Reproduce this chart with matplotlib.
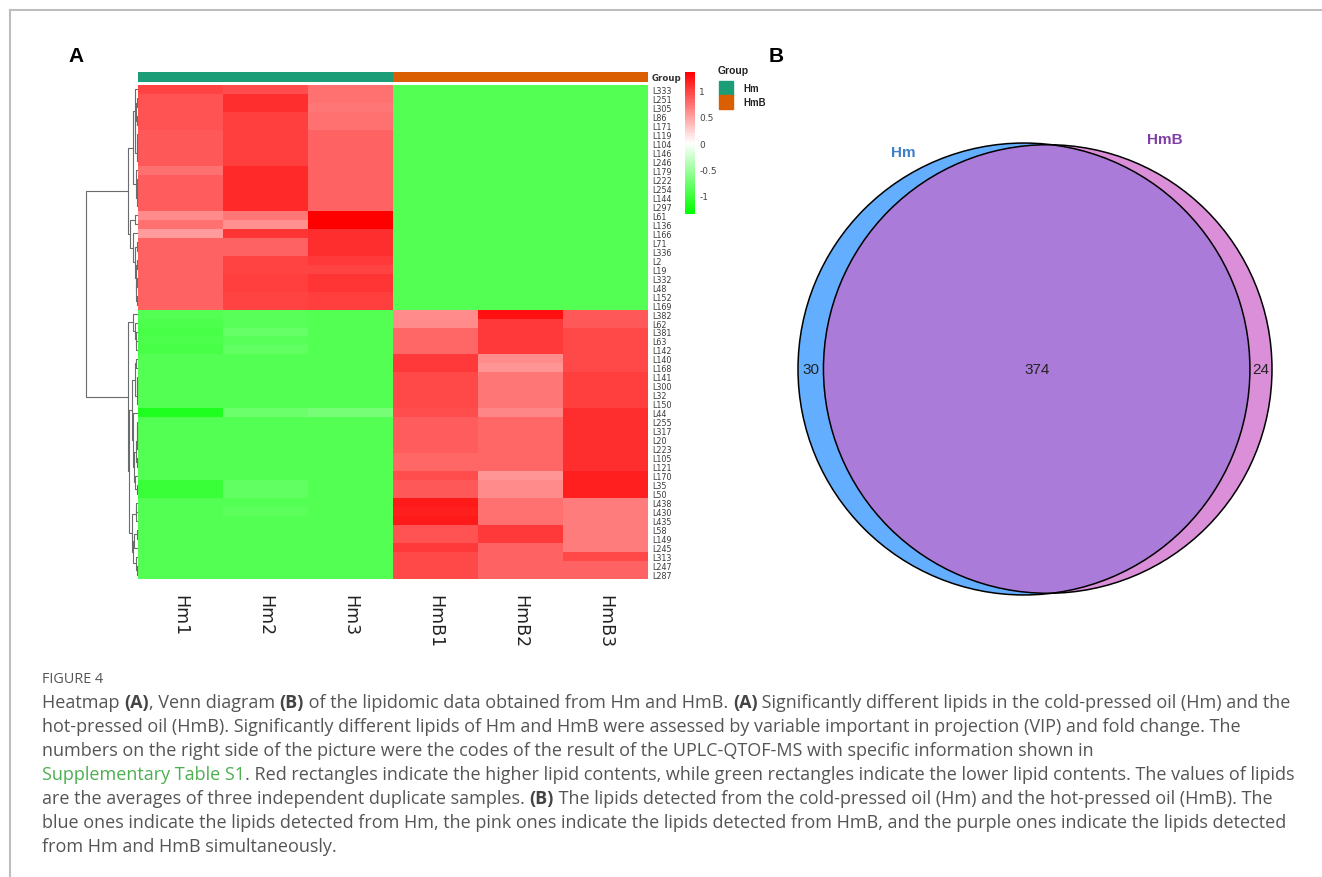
import numpy as np
import matplotlib
matplotlib.use('Agg')
import matplotlib.pyplot as plt
from matplotlib.colors import LinearSegmentedColormap, ListedColormap, Normalize
from matplotlib.cm import ScalarMappable
from matplotlib.patches import Circle, Rectangle
from matplotlib.lines import Line2D
from matplotlib.font_manager import FontProperties

W, H = 1322, 878

# ---- heatmap data (row z-scores) ----
lipids = ['L333', 'L251', 'L305', 'L86', 'L171', 'L119', 'L104', 'L146', 'L246', 'L179',
          'L222', 'L254', 'L144', 'L297', 'L61', 'L136', 'L166', 'L71', 'L336', 'L2',
          'L19', 'L332', 'L48', 'L152', 'L169',
          'L382', 'L62', 'L381', 'L63', 'L142', 'L140', 'L168', 'L141', 'L300', 'L32',
          'L150', 'L44', 'L255', 'L317', 'L20', 'L223', 'L105', 'L121', 'L170', 'L35',
          'L50', 'L438', 'L430', 'L435', 'L58', 'L149', 'L245', 'L313', 'L247', 'L287']
samples = ['Hm1', 'Hm2', 'Hm3', 'HmB1', 'HmB2', 'HmB3']
groups = ['Hm', 'Hm', 'Hm', 'HmB', 'HmB', 'HmB']
group_names = ['Hm', 'HmB']
group_colors = ['#1B9E77', '#D95F02']

hm1 = [0.98, 0.91, 0.91, 0.91, 0.91, 0.88, 0.88, 0.88, 0.88, 0.74,
       0.85, 0.85, 0.85, 0.85, 0.62, 0.76, 0.54, 0.84, 0.84, 0.84,
       0.84, 0.84, 0.84, 0.84, 0.84,
       -0.91, -0.95, -0.97, -0.93, -0.96, -0.91, -0.91, -0.91, -0.91, -0.91,
       -0.91, -1.18, -0.91, -0.91, -0.91, -0.91, -0.91, -0.91, -0.91, -1.05,
       -1.05, -0.91, -0.91, -0.91, -0.91, -0.91, -0.91, -0.91, -0.91, -0.91]
hm2 = [0.93, 1.10, 1.10, 1.02, 1.02, 1.02, 1.02, 1.02, 1.02, 1.12,
       1.12, 1.12, 1.12, 1.12, 0.71, 0.59, 1.08, 0.82, 0.82, 1.00,
       1.00, 1.02, 1.02, 0.98, 0.98,
       -0.89, -0.89, -0.80, -0.89, -0.84, -0.91, -0.91, -0.91, -0.91, -0.91,
       -0.91, -0.78, -0.91, -0.91, -0.91, -0.91, -0.91, -0.91, -0.91, -0.84,
       -0.84, -0.91, -0.87, -0.91, -0.91, -0.91, -0.91, -0.91, -0.91, -0.91]
hm3 = [0.74, 0.74, 0.72, 0.74, 0.74, 0.84, 0.84, 0.84, 0.84, 0.84,
       0.84, 0.84, 0.84, 0.84, 1.36, 1.36, 1.10, 1.10, 1.10, 1.04,
       1.00, 1.08, 1.08, 1.02, 1.02,
       -0.91, -0.91, -0.91, -0.91, -0.91, -0.91, -0.91, -0.91, -0.91, -0.91,
       -0.91, -0.73, -0.91, -0.91, -0.91, -0.91, -0.91, -0.91, -0.91, -0.91,
       -0.91, -0.91, -0.91, -0.91, -0.91, -0.91, -0.91, -0.91, -0.91, -0.91]
hmb1 = [-0.91, -0.91, -0.91, -0.91, -0.91, -0.91, -0.91, -0.91, -0.91, -0.91,
        -0.91, -0.91, -0.91, -0.91, -0.91, -0.91, -0.91, -0.91, -0.91, -0.91,
        -0.91, -0.91, -0.91, -0.91, -0.91,
        0.60, 0.62, 0.79, 0.79, 0.79, 1.06, 1.06, 0.97, 0.97, 0.97,
        0.97, 0.93, 0.86, 0.86, 0.86, 0.86, 0.80, 0.80, 0.93, 0.89,
        0.89, 1.22, 1.18, 1.22, 0.91, 0.91, 1.06, 0.96, 0.96, 0.96]
hmb2 = [-0.91, -0.91, -0.91, -0.91, -0.91, -0.91, -0.91, -0.91, -0.91, -0.91,
        -0.91, -0.91, -0.91, -0.91, -0.91, -0.91, -0.91, -0.91, -0.91, -0.91,
        -0.91, -0.91, -0.91, -0.91, -0.91,
        1.27, 1.05, 1.05, 1.05, 1.05, 0.62, 0.57, 0.71, 0.71, 0.71,
        0.71, 0.65, 0.80, 0.80, 0.80, 0.80, 0.80, 0.80, 0.57, 0.61,
        0.61, 0.74, 0.74, 0.74, 1.05, 1.05, 0.84, 0.84, 0.84, 0.84]
hmb3 = [-0.91, -0.91, -0.91, -0.91, -0.91, -0.91, -0.91, -0.91, -0.91, -0.91,
        -0.91, -0.91, -0.91, -0.91, -0.91, -0.91, -0.91, -0.91, -0.91, -0.91,
        -0.91, -0.91, -0.91, -0.91, -0.91,
        0.89, 0.89, 0.96, 0.96, 0.96, 0.96, 0.96, 1.02, 1.02, 1.02,
        1.02, 1.10, 1.10, 1.10, 1.10, 1.10, 1.10, 1.10, 1.18, 1.18,
        1.18, 0.70, 0.70, 0.70, 0.70, 0.70, 0.70, 0.96, 0.84, 0.84]

# ---- venn data ----
venn_labels = ['Hm', 'HmB']
only_hm = 30
both = 374
only_hmb = 24

plt.rcParams['axes.unicode_minus'] = False
fig = plt.figure(figsize=(W / 100, H / 100), dpi=100)


def px_axes(x0, y0, x1, y1):
    return fig.add_axes([x0 / W, 1 - y1 / H, (x1 - x0) / W, (y1 - y0) / H])


# frame lines of the page
fig.add_artist(Line2D([10 / W, 1], [1 - 11 / H, 1 - 11 / H], color='#BDBDBD', lw=1.5))
fig.add_artist(Line2D([10 / W, 10 / W], [0, 1 - 11 / H], color='#BDBDBD', lw=1.5))

# ---- heatmap ----
data = np.column_stack([hm1, hm2, hm3, hmb1, hmb2, hmb3])
n = len(lipids)
cmap = LinearSegmentedColormap.from_list('gwr', ['#00FF00', '#FFFFFF', '#FF0000'], N=100)
norm = Normalize(vmin=-1.36, vmax=1.36)

ax = px_axes(138, 86, 648, 580)
ax.pcolormesh(np.arange(len(samples) + 1), np.arange(n + 1), data, cmap=cmap, norm=norm)
ax.set_xlim(0, len(samples))
ax.set_ylim(n, 0)
for s in ax.spines.values():
    s.set_visible(False)
ax.yaxis.tick_right()
ax.set_yticks(np.arange(n) + 0.5)
ax.set_yticklabels(lipids)
ax.tick_params(axis='y', length=0, pad=3, labelsize=5.8, labelcolor='#3A3A3A')
ax.set_xticks(np.arange(len(samples)) + 0.5)
ax.set_xticklabels(samples, rotation=270)
ax.tick_params(axis='x', length=0, pad=11, labelsize=12.5, labelcolor='#222222')

# group annotation bar
axg = px_axes(138, 73, 648, 83)
codes = [[group_names.index(g) for g in groups]]
axg.pcolormesh(np.arange(len(samples) + 1), [0, 1], codes,
               cmap=ListedColormap(group_colors), vmin=0, vmax=1)
axg.set_xlim(0, len(samples))
axg.axis('off')
axg.text(1.007, 0.45, 'Group', transform=axg.transAxes, ha='left', va='center',
         fontsize=6.2, fontweight='bold', color='#333333')

# row dendrogram: complete linkage, merging neighbours in displayed order
dist = np.sqrt(((data[:, None, :] - data[None, :, :]) ** 2).sum(-1))
clusters = [dict(members=[i], pos=i + 0.5, h=0.0) for i in range(n)]
links = []
while len(clusters) > 1:
    best = None
    for k in range(len(clusters) - 1):
        a, b = clusters[k], clusters[k + 1]
        d = dist[np.ix_(a['members'], b['members'])].max()
        if best is None or d < best[0]:
            best = (d, k)
    d, k = best
    a, b = clusters[k], clusters[k + 1]
    h = max(d, a['h'], b['h'])
    links.append((a['pos'], a['h'], b['pos'], b['h'], h))
    clusters[k:k + 2] = [dict(members=a['members'] + b['members'],
                              pos=(a['pos'] + b['pos']) / 2, h=h)]
root_h = clusters[0]['h']

axd = px_axes(86, 86, 137, 580)
for pa, ha, pb, hb, h in links:
    axd.plot([ha, h, h, hb], [pa, pa, pb, pb], color='#6B6B6B', lw=0.8, clip_on=False)
axd.set_xlim(root_h, 0)
axd.set_ylim(n, 0)
axd.axis('off')

# colour key
cax = px_axes(685, 73, 695, 215)
cb = fig.colorbar(ScalarMappable(norm=norm, cmap=cmap), cax=cax, ticks=[1, 0.5, 0, -0.5, -1])
cb.set_ticklabels(['1', '0.5', '0', '-0.5', '-1'])
cb.outline.set_visible(False)
cax.tick_params(length=0, pad=3, labelsize=6.5, labelcolor='#444444')

# group legend
fig.text(718 / W, 1 - 71 / H, 'Group', fontsize=7.5, fontweight='bold',
         family='Liberation Sans', ha='left', va='center', color='#222222')
for i, (g, c) in enumerate(zip(group_names, group_colors)):
    y0 = 82 + 14 * i
    fig.add_artist(Rectangle((719 / W, 1 - (y0 + 14) / H), 14 / W, 14 / H,
                             transform=fig.transFigure, color=c))
    fig.text(743 / W, 1 - (y0 + 7.5) / H, g, fontsize=7, fontweight='bold',
             family='Liberation Sans', ha='left', va='center', color='#222222')

# ---- venn diagram ----
r1 = np.sqrt((only_hm + both) / np.pi)
r2 = np.sqrt((only_hmb + both) / np.pi)


def lens_area(d):
    a1 = r1 ** 2 * np.arccos((d ** 2 + r1 ** 2 - r2 ** 2) / (2 * d * r1))
    a2 = r2 ** 2 * np.arccos((d ** 2 + r2 ** 2 - r1 ** 2) / (2 * d * r2))
    a3 = 0.5 * np.sqrt((-d + r1 + r2) * (d + r1 - r2) * (d - r1 + r2) * (d + r1 + r2))
    return a1 + a2 - a3


lo, hi = abs(r1 - r2) + 1e-9, r1 + r2
for _ in range(100):
    mid = (lo + hi) / 2
    if lens_area(mid) > both:
        lo = mid
    else:
        hi = mid
dv = (lo + hi) / 2

# pixel frame of the union of both circles in the reference layout
left_px, right_px, cy_px = 798, 1272, 370
s = (right_px - left_px) / (r1 + dv + r2)
axv = px_axes(780, 120, 1290, 620)
axv.set_xlim((780 - left_px) / s - r1, (1290 - left_px) / s - r1)
axv.set_ylim(-(620 - cy_px) / s, (cy_px - 120) / s)
axv.axis('off')

c_hm = Circle((0, 0), r1, facecolor='#63AEFF', edgecolor='none')
c_hmb = Circle((dv, 0), r2, facecolor='#DA8FD8', edgecolor='none')
axv.add_patch(c_hm)
axv.add_patch(c_hmb)
c_both = Circle((dv, 0), r2, facecolor='#AA7BD8', edgecolor='none')
axv.add_patch(c_both)
c_both.set_clip_path(c_hm)
axv.add_patch(Circle((0, 0), r1, facecolor='none', edgecolor='black', lw=1.1))
axv.add_patch(Circle((dv, 0), r2, facecolor='none', edgecolor='black', lw=1.1))

num_kw = dict(ha='center', va='center', fontsize=11, color='#222222', family='Liberation Sans')
axv.text((-r1 + dv - r2) / 2, 0, str(only_hm), **num_kw)
axv.text((dv - r2 + r1) / 2, 0, str(both), **num_kw)
axv.text((r1 + dv + r2) / 2, 0, str(only_hmb), **num_kw)

t1 = np.deg2rad(119)
t2 = np.deg2rad(63)
axv.text(1.10 * r1 * np.cos(t1), 1.10 * r1 * np.sin(t1), venn_labels[0], ha='center',
         va='center', fontsize=11, fontweight='bold', color='#3D7EC9', family='Liberation Sans')
axv.text(dv + 1.15 * r2 * np.cos(t2), 1.15 * r2 * np.sin(t2), venn_labels[1], ha='center',
         va='center', fontsize=11, fontweight='bold', color='#7E3FA6', family='Liberation Sans')

# panel letters
fig.text(76.5 / W, 1 - 56 / H, 'A', fontsize=15, fontweight='bold', family='Liberation Sans',
         ha='center', va='center')
fig.text(776.5 / W, 1 - 56 / H, 'B', fontsize=15, fontweight='bold', family='Liberation Sans',
         ha='center', va='center')

# ---- caption ----
cap_font = 'Open Sans'
cap_color = '#555555'
green = '#4CAF50'
N, B, G = 'n', 'b', 'g'
caption = [
    [("Heatmap ", N), ("(A)", B), (", Venn diagram ", N), ("(B)", B),
     (" of the lipidomic data obtained from Hm and HmB. ", N), ("(A)", B),
     (" Significantly different lipids in the cold-pressed oil (Hm) and the", N)],
    [("hot-pressed oil (HmB). Significantly different lipids of Hm and HmB were assessed by "
      "variable important in projection (VIP) and fold change. The", N)],
    [("numbers on the right side of the picture were the codes of the result of the "
      "UPLC-QTOF-MS with specific information shown in", N)],
    [("Supplementary Table S1", G), (". Red rectangles indicate the higher lipid contents, "
      "while green rectangles indicate the lower lipid contents. The values of lipids", N)],
    [("are the averages of three independent duplicate samples. ", N), ("(B)", B),
     (" The lipids detected from the cold-pressed oil (Hm) and the hot-pressed oil (HmB). The", N)],
    [("blue ones indicate the lipids detected from Hm, the pink ones indicate the lipids "
      "detected from HmB, and the purple ones indicate the lipids detected", N)],
    [("from Hm and HmB simultaneously.", N)],
]

fig.canvas.draw()
renderer = fig.canvas.get_renderer()


def advance(txt, size, weight):
    fp = FontProperties(family=cap_font, size=size, weight=weight)
    w1 = renderer.get_text_width_height_descent('|' + txt + '|', fp, ismath=False)[0]
    w0 = renderer.get_text_width_height_descent('||', fp, ismath=False)[0]
    return w1 - w0


def weight_of(kind):
    return 'bold' if kind == B else 'normal'


base = 12.0
wline = sum(advance(t, base, weight_of(k)) for t, k in caption[0])
fs = base * 1248 / wline

fig.text(42 / W, 1 - 683 / H, 'FIGURE 4', fontsize=fs * 0.8, family=cap_font,
         color=cap_color, ha='left', va='baseline')
for li, line in enumerate(caption):
    x = 42.0
    yb = 708 + 24 * li
    for t, k in line:
        col = green if k == G else ('#444444' if k == B else cap_color)
        fig.text(x / W, 1 - yb / H, t, fontsize=fs, family=cap_font, fontweight=weight_of(k),
                 color=col, ha='left', va='baseline')
        x += advance(t, fs, weight_of(k))

fig.savefig('out.png', dpi=100)
